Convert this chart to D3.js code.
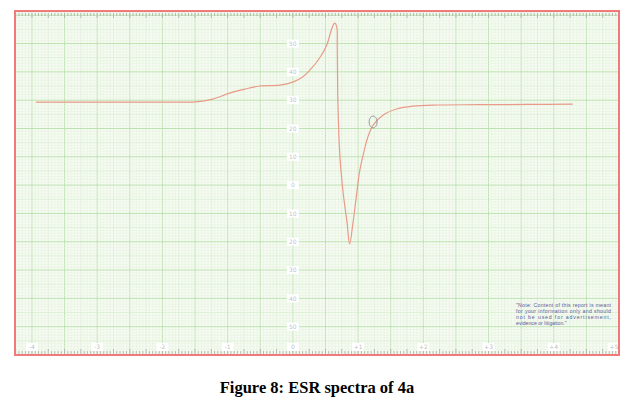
<!DOCTYPE html>
<html><head><meta charset="utf-8">
<script src="https://cdn.jsdelivr.net/npm/d3@7"></script>
<style>html,body{margin:0;padding:0;background:#fff;}svg{display:block;}</style>
</head><body>
<svg id="c" width="634" height="415"></svg>
<script>
// ---- data (field offset units vs. signal units) ----
const fieldX = [-3.94,-3.40,-2.90,-2.40,-1.95,-1.70,-1.49,-1.23,-0.97,-0.74,-0.51,-0.20,0.00,0.15,0.26,0.41,0.52,0.60,0.64,0.67,0.68,0.69,0.72,0.77,0.83,0.87,0.92,0.966,1.027,1.103,1.15,1.23,1.38,1.59,1.84,2.21,2.87,3.60,4.29];
const signal = [29.3,29.3,29.3,29.3,29.3,29.3,29.4,30.4,32.5,33.9,35.0,35.3,36.4,38.2,40.6,44.9,49.5,55.5,57.2,56.2,48.4,29.3,10.6,-2.5,-13.1,-20.8,-13.6,-5.3,5.3,13.1,17.0,21.2,24.7,26.9,27.9,28.3,28.4,28.5,28.6];
const xTickValues = [-4,-3,-2,-1,0,1,2,3,4,5];
const xTickLabels = ["-4","-3","-2","-1","0","+1","+2","+3","+4","+5"];
const yTickValues = [50,40,30,20,10,0,-10,-20,-30,-40,-50];
const yTickLabels = ["50","40","30","20","10","0","10","20","30","40","50"];
const markerPoint = [1.23, 22.3];
const noteLines = ["\"Note: Content of this report is meant","for your information only and should","not be used for advertisement,","evidence or litigation.\""];
const caption = "Figure 8: ESR spectra of 4a";

const svg = d3.select("#c");
const L=15, R=619, T=11, B=355;
const x = d3.scaleLinear().domain([-4.26, 5]).range([L, R]);
const y = d3.scaleLinear().domain([-60, 61.5]).range([B, T]);

svg.append("rect").attr("x",L).attr("y",T).attr("width",R-L).attr("height",B-T).attr("fill","#f7fbf4");

const g = svg.append("g");
const xMin = d3.range(-4.25, 5.001, 0.05).map(v=>+v.toFixed(2));
g.selectAll(".vx").data(xMin).join("line")
 .attr("x1",d=>x(d)).attr("x2",d=>x(d)).attr("y1",T).attr("y2",B)
 .attr("stroke",d=>{const r=Math.round(d*100); return r%50===0?"#bde2b1":(r%25===0?"#d6edce":"#e6f3e0");})
 .attr("stroke-width",d=>Math.round(d*100)%50===0?1:0.7);
const yMin = d3.range(-60, 61.5, 1);
g.selectAll(".hy").data(yMin).join("line")
 .attr("y1",d=>y(d)).attr("y2",d=>y(d)).attr("x1",L).attr("x2",R)
 .attr("stroke",d=>d%10===0?"#bde2b1":(d%5===0?"#d6edce":"#e6f3e0"))
 .attr("stroke-width",d=>d%10===0?1:0.7);

const ticks = d3.range(-4.25, 5.001, 0.05).map(v=>+v.toFixed(2));
["top","bottom"].forEach(side=>{
  const y0 = side==="top"? T+2 : B-1;
  svg.selectAll(".rt"+side).data(ticks).join("line")
   .attr("x1",d=>x(d)).attr("x2",d=>x(d))
   .attr("y1",y0).attr("y2",d=>{const len = Math.round(d*100)%25===0?5:3; return side==="top"? y0+len : y0-len;})
   .attr("stroke","#a0a4a4").attr("stroke-width",0.7);
});

const yl = svg.append("g");
yTickValues.forEach((v,i)=>{
  yl.append("rect").attr("x",x(0)-6).attr("y",y(v)-4).attr("width",12).attr("height",8).attr("fill","#fff");
  yl.append("text").attr("x",x(0)).attr("y",y(v)+2.2).attr("text-anchor","middle")
   .attr("font-family","DejaVu Sans").attr("font-size",6).attr("fill","#c4c4c4").text(yTickLabels[i]);
});
xTickValues.forEach((v,i)=>{
  const last = i===xTickValues.length-1;
  const cx = last ? x(v)-5 : x(v);
  svg.append("rect").attr("x",cx-6).attr("y",343).attr("width",12).attr("height",8).attr("fill","#fff");
  svg.append("text").attr("x",cx).attr("y",349.3).attr("text-anchor","middle")
   .attr("font-family","DejaVu Sans").attr("font-size",6).attr("fill","#c0c0c0").text(xTickLabels[i]);
});

const line = d3.line().x((d,i)=>x(fieldX[i])).y((d,i)=>y(signal[i])).curve(d3.curveCatmullRom.alpha(0.5));
svg.append("path").datum(signal).attr("d",line).attr("fill","none")
 .attr("stroke","#e99a88").attr("stroke-width",1.2);

svg.append("ellipse").attr("cx",x(markerPoint[0])).attr("cy",y(markerPoint[1]))
 .attr("rx",4).attr("ry",6).attr("fill","none").attr("stroke","#8c9494").attr("stroke-width",0.9);

noteLines.forEach((t,i)=>{
  const tx = svg.append("text").attr("x",516).attr("y",307+i*6)
   .attr("font-family","Liberation Sans").attr("font-size",5.2).attr("fill","#5a5a9c").text(t);
  if(i<3) tx.attr("textLength",95).attr("lengthAdjust","spacing");
});

svg.append("rect").attr("x",L).attr("y",T).attr("width",R-L).attr("height",B-T)
 .attr("fill","none").attr("stroke","#f07a7a").attr("stroke-width",2);

svg.append("text").attr("x",317).attr("y",393).attr("text-anchor","middle")
 .attr("font-family","Liberation Serif").attr("font-weight","bold").attr("font-size",16.5)
 .attr("fill","#000").text(caption);
</script>
</body></html>
